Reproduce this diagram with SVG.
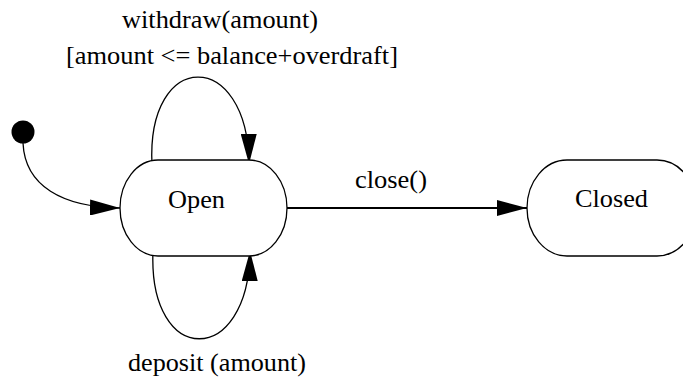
<svg xmlns="http://www.w3.org/2000/svg" width="683" height="381" viewBox="0 0 683 381">
  <style>
    .node { fill: #ffffff; stroke: #000000; stroke-width: 1.3; }
    .edge { fill: none; stroke: #000000; stroke-width: 1.3; }
    .label { font-family: 'Liberation Serif', 'Times New Roman', serif; font-size: 26px; fill: #000000; }
  </style>
  <defs>
    <marker id="arrow" markerUnits="userSpaceOnUse" viewBox="0 0 30 16" refX="30" refY="8" markerWidth="30" markerHeight="16" orient="auto">
      <path d="M0,0 L30,8 L0,16 Z" fill="#000000"/>
    </marker>
  </defs>
  <rect width="683" height="381" fill="#ffffff"/>

  <g id="connectors">
    <path class="edge" d="M23,143 C25,186 62,207 120,208" marker-end="url(#arrow)"/>
    <path class="edge" d="M152,165 C146,48 248,48 249,164" marker-end="url(#arrow)"/>
    <path class="edge" d="M153,251 C148,368 249,368 250,251" marker-end="url(#arrow)"/>
    <path class="edge" style="stroke-width:2" d="M287,208 L527,208" marker-end="url(#arrow)"/>
    <text class="label" x="122" y="28" textLength="196" lengthAdjust="spacingAndGlyphs">withdraw(amount)</text>
    <text class="label" x="66" y="64" textLength="332" lengthAdjust="spacingAndGlyphs">[amount &lt;= balance+overdraft]</text>
    <text class="label" x="128" y="371" textLength="178" lengthAdjust="spacingAndGlyphs">deposit (amount)</text>
    <text class="label" x="355" y="188" textLength="72" lengthAdjust="spacingAndGlyphs">close()</text>
  </g>

  <g id="initial">
    <circle cx="23" cy="132" r="11.5" fill="#000000"/>
  </g>

  <g id="open">
    <rect class="node" x="120" y="160" width="167" height="96" rx="38" ry="48"/>
    <text class="label" x="168" y="208" textLength="57" lengthAdjust="spacingAndGlyphs">Open</text>
  </g>

  <g id="closed">
    <rect class="node" x="527" y="160" width="170" height="96" rx="40" ry="48"/>
    <text class="label" x="575" y="207" textLength="73" lengthAdjust="spacingAndGlyphs">Closed</text>
  </g>
</svg>
